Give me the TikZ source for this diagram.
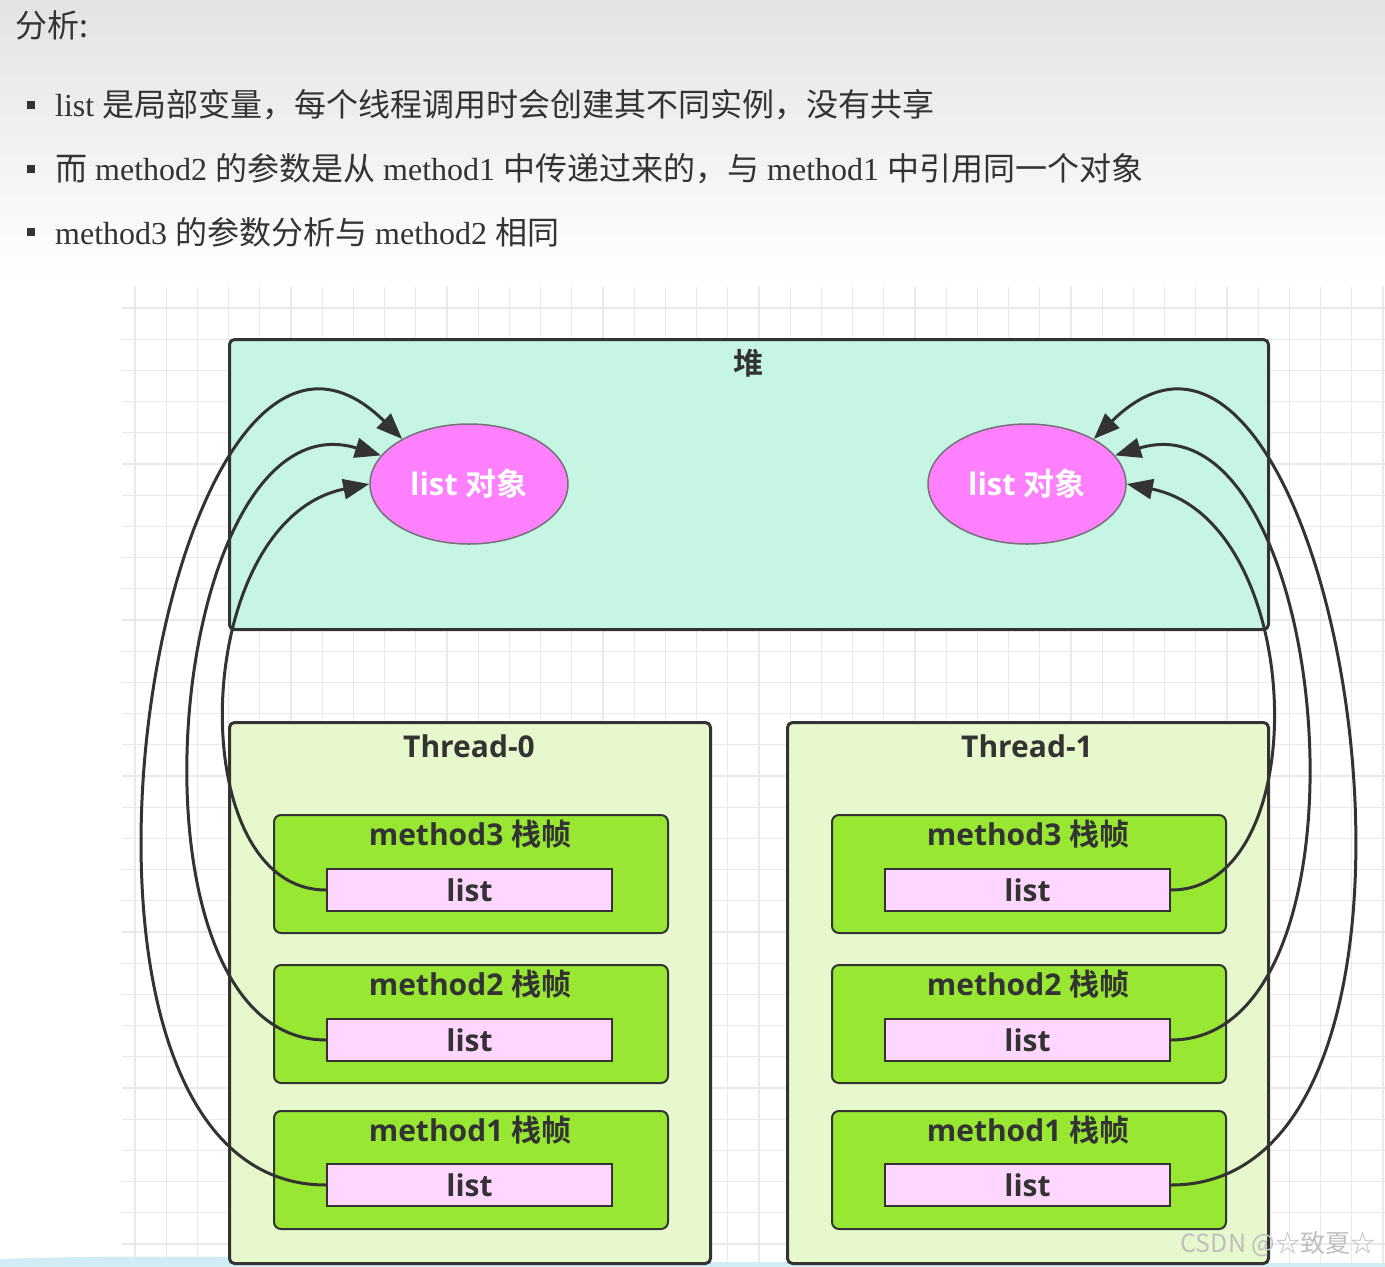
\documentclass[tikz,border=0pt]{standalone}
\usepackage{fontspec}
\usepackage{xcolor}
\usepackage{tikz}
\usetikzlibrary{arrows.meta,positioning,shapes.geometric}
\setmainfont{Liberation Serif}
\newfontfamily\cjk[BoldFont={Noto Sans CJK SC Bold}]{Noto Sans CJK SC}
\newfontfamily\lab{Open Sans}
\newcommand{\zhb}[1]{{\cjk\bfseries #1}}
\definecolor{textc}{HTML}{333333}
\definecolor{linec}{HTML}{333333}
\definecolor{gridc}{HTML}{E9E9E9}
\definecolor{heapfill}{HTML}{C6F5E3}
\definecolor{threadfill}{HTML}{E6F8CC}
\definecolor{framefill}{HTML}{98E732}
\definecolor{listfill}{HTML}{FFD6FF}
\definecolor{objfill}{HTML}{FF80FF}
\definecolor{bandc}{HTML}{D2ECF6}

\begin{document}
\begin{tikzpicture}[x=1pt,y=-1pt,
  note/.style={anchor=west,inner sep=0pt,text=textc,font=\fontsize{32}{32}\selectfont},
  gridline/.style={draw=gridc,line width=1.2pt},
  box/.style={draw=linec,line width=3pt,rounded corners=5pt,anchor=north west,inner sep=0pt},
  heapbox/.style={box,fill=heapfill,minimum width=1039pt,minimum height=290pt},
  threadbox/.style={box,fill=threadfill,minimum width=481pt,minimum height=541pt},
  framebox/.style={box,line width=2pt,fill=framefill,rounded corners=7pt,minimum width=394pt,minimum height=118pt},
  title/.style={inner sep=0pt,text=textc,font=\lab\bfseries\fontsize{30}{30}\selectfont},
  listbox/.style={title,draw=linec,line width=2pt,fill=listfill,minimum width=285pt,minimum height=42pt},
  obj/.style={ellipse,draw=black!55,line width=1.5pt,fill=objfill,minimum width=198pt,minimum height=120pt,
    inner sep=0pt,text=white,font=\lab\bfseries\fontsize{31}{31}\selectfont},
  ref/.style={draw=linec,line width=3pt,-{Triangle[length=26pt,width=20pt]}}]
\useasboundingbox (0,0) rectangle (1385,1267);
% slide header and notes
\shade[top color=black!11,bottom color=white] (0,0) rectangle (1385,280);
\node[note] (head) at (15,25) {\cjk 分析:};
\fill[textc] (27,101) rectangle (35,109);
\fill[textc] (27,165) rectangle (35,173);
\fill[textc] (27,228) rectangle (35,236);
\node[note] (n1) at (55,105) {list {\cjk 是局部变量，每个线程调用时会创建其不同实例，没有共享}};
\node[note] (n2) at (55,169) {{\cjk 而} method2 {\cjk 的参数是从} method1 {\cjk 中传递过来的，与} method1 {\cjk 中引用同一个对象}};
\node[note] (n3) at (55,232) {method3 {\cjk 的参数分析与} method2 {\cjk 相同}};
% grid paper
\foreach \gx in {135,166.2,...,1385} \draw[gridline] (\gx,287) -- (\gx,1267);
\foreach \gy in {308,339.2,...,1267} \draw[gridline] (122,\gy) -- (1385,\gy);
\fill[bandc] (0,1259) .. controls (200,1252) and (400,1262) .. (700,1262) -- (1385,1263) -- (1385,1267) -- (0,1267) -- cycle;

% heap
\node[heapbox] (heap) at (228,338) {};
\node[title] (heapT) at (748,363) {\zhb{堆}};
\node[obj] (obj0) at (469,484) {list \zhb{对象}};
\node[obj] (obj1) at (1027,484) {list \zhb{对象}};

% Thread-0
\node[threadbox] (th0) at (228,721) {};
\node[title] (th0T) at (469,746) {Thread-0};
\node[framebox] (f03) at (273,814) {};
\node[title] (f03T) at (470,834) {method3 \zhb{栈帧}};
\node[listbox] (l03) at (469.5,890) {list};
\node[framebox] (f02) at (273,964) {};
\node[title] (f02T) at (470,984) {method2 \zhb{栈帧}};
\node[listbox] (l02) at (469.5,1040) {list};
\node[framebox] (f01) at (273,1110) {};
\node[title] (f01T) at (470,1130) {method1 \zhb{栈帧}};
\node[listbox] (l01) at (469.5,1185) {list};

% Thread-1
\node[threadbox] (th1) at (786,721) {};
\node[title] (th1T) at (1027,746) {Thread-1};
\node[framebox] (f13) at (831,814) {};
\node[title] (f13T) at (1028,834) {method3 \zhb{栈帧}};
\node[listbox] (l13) at (1027.5,890) {list};
\node[framebox] (f12) at (831,964) {};
\node[title] (f12T) at (1028,984) {method2 \zhb{栈帧}};
\node[listbox] (l12) at (1027.5,1040) {list};
\node[framebox] (f11) at (831,1110) {};
\node[title] (f11T) at (1028,1130) {method1 \zhb{栈帧}};
\node[listbox] (l11) at (1027.5,1185) {list};

% references into the heap
\draw[ref] (l03.west) .. controls (180,890) and (190,520) .. (obj0.west);
\draw[ref] (l02.west) .. controls (110,1040) and (165,390) .. (obj0.162);
\draw[ref] (l01.west) .. controls (0,1185) and (160,200) .. (obj0.146);
\draw[ref] (l13.east) .. controls (1317,890) and (1307,520) .. (obj1.east);
\draw[ref] (l12.east) .. controls (1387,1040) and (1332,390) .. (obj1.18);
\draw[ref] (l11.east) .. controls (1497,1185) and (1337,200) .. (obj1.34);

\node[inner sep=0pt,text=black!25,font=\cjk\fontsize{25}{25}\selectfont] (mark) at (1278,1244) {CSDN @☆致夏☆};
\end{tikzpicture}
\end{document}
